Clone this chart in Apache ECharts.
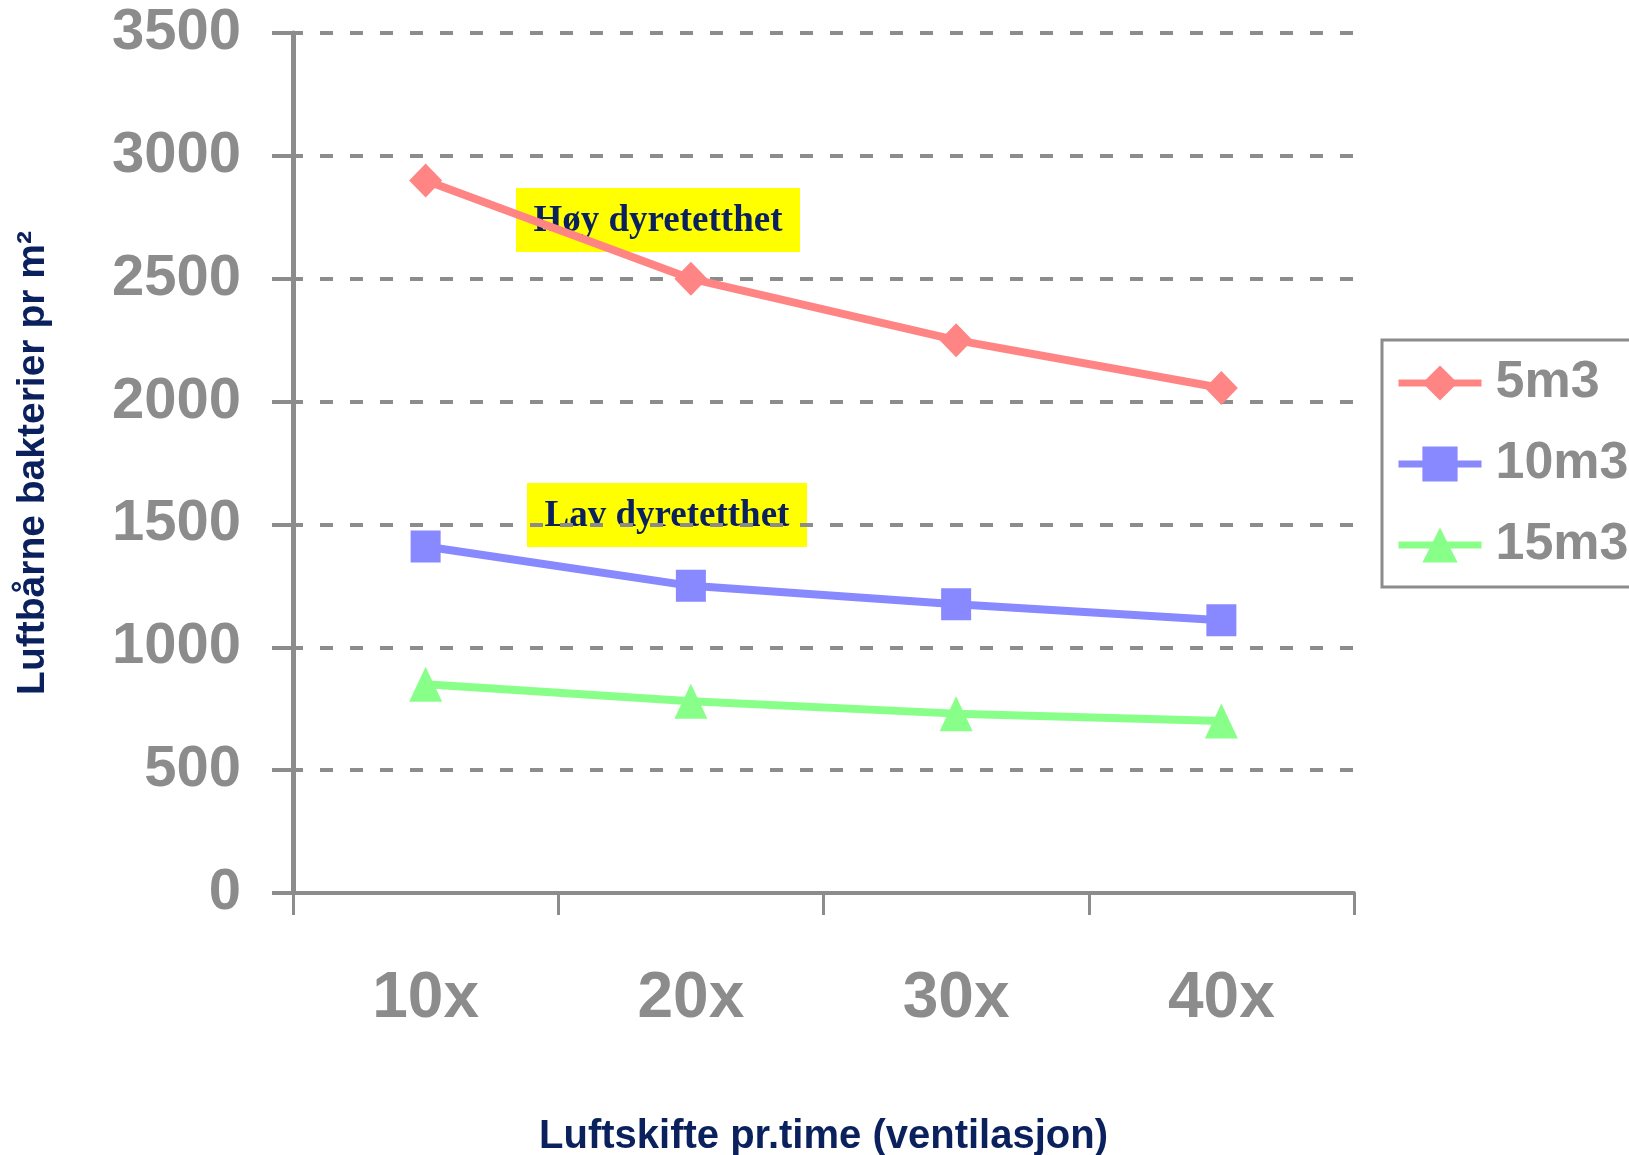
<!DOCTYPE html>
<html>
<head>
<meta charset="utf-8">
<script src="https://cdn.jsdelivr.net/npm/echarts@6/dist/echarts.min.js"></script>
<style>html,body{margin:0;padding:0;background:#fff}#c{width:1629px;height:1155px}</style>
</head>
<body>
<div id="c"></div>
<script>
const categories = ['10x', '20x', '30x', '40x'];
const s5m3 = [2900, 2500, 2250, 2055];
const s10m3 = [1410, 1250, 1175, 1110];
const s15m3 = [850, 780, 730, 700];
const yTicks = { min: 0, max: 3500, interval: 500 };
const seriesNames = ['5m3', '10m3', '15m3'];
const annotations = ['Høy dyretetthet', 'Lav dyretetthet'];

const gray = '#8c8c8c';
const navy = '#0b215e';
const chart = echarts.init(document.getElementById('c'), null, { renderer: 'canvas' });

function lineSeries(name, data, color, symbol, size) {
  return {
    name, type: 'line', data, symbol, symbolSize: size,
    lineStyle: { color, width: 8 },
    itemStyle: { color },
    emphasis: { disabled: true },
    z: 3
  };
}

chart.setOption({
  animation: false,
  grid: { left: 293, top: 33, right: 275, bottom: 262, containLabel: false, outerBoundsMode: 'none' },
  xAxis: {
    type: 'category', data: categories, boundaryGap: true,
    axisLine: { lineStyle: { color: gray, width: 4 } },
    axisTick: { show: true, length: 22, lineStyle: { color: gray, width: 3 } },
    axisLabel: { color: gray, fontSize: 64, fontWeight: 'bold', fontFamily: '"Liberation Sans Narrow", "Arial Narrow", "Liberation Sans", Arial, sans-serif', margin: 74 },
    splitLine: { show: false },
    name: 'Luftskifte pr.time (ventilasjon)',
    nameLocation: 'middle', nameGap: 224,
    nameTextStyle: { color: navy, fontSize: 40, fontWeight: 'bold', fontFamily: '"Liberation Sans Narrow", "Arial Narrow", "Liberation Sans", Arial, sans-serif' }
  },
  yAxis: {
    type: 'value', min: yTicks.min, max: yTicks.max, interval: yTicks.interval,
    axisLine: { show: true, lineStyle: { color: gray, width: 5 } },
    axisTick: { show: true, length: 21, lineStyle: { color: gray, width: 4 } },
    axisLabel: { color: gray, fontSize: 58, fontWeight: 'bold', fontFamily: '"Liberation Sans", Arial, sans-serif', margin: 52, formatter: v => String(v) },
    splitLine: { show: true, lineStyle: { color: gray, width: 4, type: [13, 17], dashOffset: 3 } },
    name: 'Luftbårne bakterier pr m²',
    nameLocation: 'middle', nameGap: 240, nameRotate: 90,
    nameTextStyle: { color: navy, fontSize: 39, fontWeight: 'bold', fontFamily: '"Liberation Sans", Arial, sans-serif' }
  },
  legend: {
    orient: 'vertical', left: 1382, top: 340,
    padding: [17, 60, 16, 13],
    borderColor: gray, borderWidth: 3,
    itemWidth: 83, itemHeight: 44, itemGap: 29,
    lineStyle: { width: 7 },
    textStyle: { color: gray, fontSize: 52, fontWeight: 'bold', fontFamily: '"Liberation Sans", Arial, sans-serif', padding: [0, 0, 0, 9] },
    data: seriesNames
  },
  series: [
    lineSeries(seriesNames[0], s5m3, '#ff8585', 'diamond', [33, 34]),
    lineSeries(seriesNames[1], s10m3, '#8888ff', 'rect', [30, 32]),
    lineSeries(seriesNames[2], s15m3, '#88ff88', 'triangle', [33, 35])
  ],
  graphic: [
    {
      type: 'group', left: 516, top: 188, z: 100,
      children: [
        { type: 'rect', shape: { x: 0, y: 0, width: 284, height: 64 }, style: { fill: '#ffff00' } },
        { type: 'text', x: 142, y: 33, style: { text: annotations[0], fill: navy, font: 'bold 37px "Liberation Serif", "Times New Roman", serif', align: 'center', verticalAlign: 'middle' } }
      ]
    },
    {
      type: 'group', left: 527, top: 483, z: 100,
      children: [
        { type: 'rect', shape: { x: 0, y: 0, width: 280, height: 64 }, style: { fill: '#ffff00' } },
        { type: 'text', x: 140, y: 33, style: { text: annotations[1], fill: navy, font: 'bold 37px "Liberation Serif", "Times New Roman", serif', align: 'center', verticalAlign: 'middle' } }
      ]
    }
  ]
});
</script>
</body>
</html>
